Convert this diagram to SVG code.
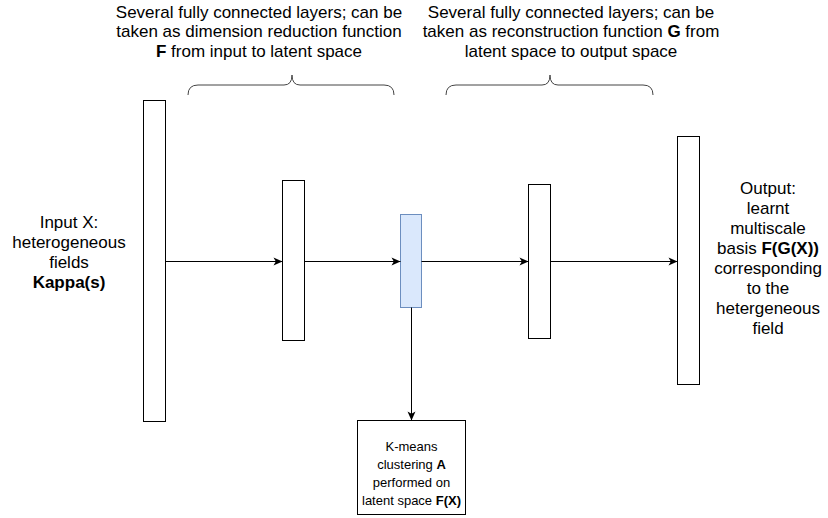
<svg xmlns="http://www.w3.org/2000/svg" width="828" height="518" viewBox="0 0 828 518">
<style>
.t{font-family:"Liberation Sans",Arial,Helvetica,sans-serif;font-size:17px;fill:#000;text-anchor:middle}
.s{font-family:"Liberation Sans",Arial,Helvetica,sans-serif;font-size:13px;fill:#000;text-anchor:middle}
.b{font-weight:bold}
.layer{fill:#fff;stroke:#000;stroke-width:1}
.lat{fill:#dae8fc;stroke:#6c8ebf;stroke-width:1}
.edge{fill:none;stroke:#000;stroke-width:1}
.brace{fill:none;stroke:#444;stroke-width:1}
</style>
<defs>
<marker id="arr" markerUnits="userSpaceOnUse" markerWidth="11" markerHeight="11" viewBox="0 0 11 11" refX="10" refY="5.5" orient="auto">
<path d="M1,1.5 L10,5.5 L1,9.5 L3.3,5.5 Z" fill="#000"/>
</marker>
</defs>
<g id="label-top-left">
<text class="t" x="259" y="17.5">Several fully connected layers; can be</text>
<text class="t" x="259" y="37">taken as dimension reduction function</text>
<text class="t" x="259" y="56.5"><tspan class="b">F</tspan> from input to latent space</text>
</g>
<g id="label-top-right">
<text class="t" x="571" y="17.5">Several fully connected layers; can be</text>
<text class="t" x="571" y="37">taken as reconstruction function <tspan class="b">G</tspan> from</text>
<text class="t" x="571" y="56.5">latent space to output space</text>
</g>
<g id="brace-left">
<path class="brace" d="M188,95 Q188,85 198,85 L284,85 Q292,85 292,75 Q292,85 300,85 L384,85 Q394,85 394,95"/>
</g>
<g id="brace-right">
<path class="brace" d="M446,95 Q446,85 456,85 L542,85 Q550,85 550,75 Q550,85 558,85 L643,85 Q653,85 653,95"/>
</g>
<g id="input-label">
<text class="t" x="69" y="227.5">Input X:</text>
<text class="t" x="69" y="247.5">heterogeneous</text>
<text class="t" x="69" y="267.5">fields</text>
<text class="t b" x="69" y="288">Kappa(s)</text>
</g>
<g id="input-layer"><rect class="layer" x="143.5" y="100.5" width="22" height="321"/></g>
<g id="enc-layer"><rect class="layer" x="282.5" y="180.5" width="22" height="160"/></g>
<g id="latent-layer"><rect class="lat" x="400.5" y="214.5" width="21" height="93"/></g>
<g id="dec-layer"><rect class="layer" x="528.5" y="184.5" width="22" height="154"/></g>
<g id="output-layer"><rect class="layer" x="677.5" y="136.5" width="22" height="248"/></g>
<g id="output-label">
<text class="t" x="768" y="193.5">Output:</text>
<text class="t" x="768" y="213.5">learnt</text>
<text class="t" x="768" y="233.5">multiscale</text>
<text class="t" x="768" y="253.5">basis <tspan class="b">F(G(X))</tspan></text>
<text class="t" x="768" y="273.5">corresponding</text>
<text class="t" x="768" y="293.5">to the</text>
<text class="t" x="768" y="313.5">hetergeneous</text>
<text class="t" x="768" y="333.5">field</text>
</g>
<g id="kmeans">
<rect class="layer" x="357.5" y="420.5" width="108" height="94"/>
<text class="s" x="411.5" y="450.5">K-means</text>
<text class="s" x="411.5" y="468.5">clustering <tspan class="b">A</tspan></text>
<text class="s" x="411.5" y="486.5">performed on</text>
<text class="s" x="411.5" y="504.5">latent space <tspan class="b">F(X)</tspan></text>
</g>
<g id="connectors">
<path class="edge" d="M165.5,261.5 H282.5" marker-end="url(#arr)"/>
<path class="edge" d="M304.5,261.5 H400.5" marker-end="url(#arr)"/>
<path class="edge" d="M421.5,261.5 H528.5" marker-end="url(#arr)"/>
<path class="edge" d="M550.5,261.5 H677.5" marker-end="url(#arr)"/>
<path class="edge" d="M411.5,307.5 V420.5" marker-end="url(#arr)"/>
</g>
</svg>
